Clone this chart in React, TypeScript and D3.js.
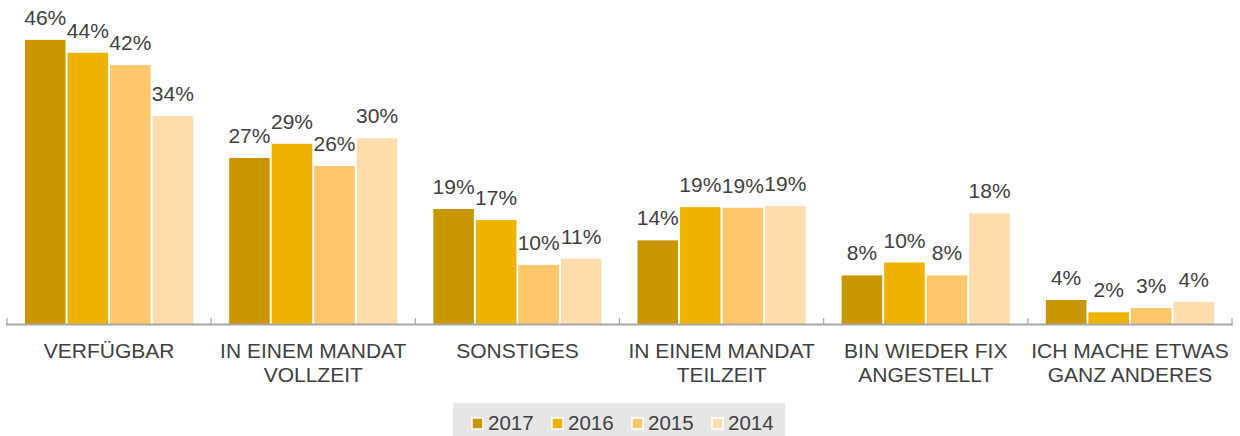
import React from "react";
import * as d3 from "d3";

const categories: string[][] = [
  ["VERFÜGBAR"],
  ["IN EINEM MANDAT", "VOLLZEIT"],
  ["SONSTIGES"],
  ["IN EINEM MANDAT", "TEILZEIT"],
  ["BIN WIEDER FIX", "ANGESTELLT"],
  ["ICH MACHE ETWAS", "GANZ ANDERES"],
];
const seriesNames = ["2017", "2016", "2015", "2014"];
const values2017 = [46.2, 27.0, 18.7, 13.6, 7.9, 3.9];
const values2016 = [44.1, 29.3, 16.9, 19.0, 10.0, 1.9];
const values2015 = [42.1, 25.7, 9.6, 18.9, 7.9, 2.6];
const values2014 = [33.8, 30.2, 10.6, 19.2, 18.0, 3.6];
const seriesValues = [values2017, values2016, values2015, values2014];
const colors = ["#c89600", "#eeb200", "#fec66a", "#fedcab"];

const W = 1240;
const H = 436;
const FONT = "'Liberation Sans', Arial, Helvetica, sans-serif";

export default function App() {
  const x0 = d3
    .scaleBand<number>()
    .domain(categories.map((_, i) => i))
    .range([7, 1232])
    .paddingInner(0)
    .paddingOuter(0);
  const groupPad = 17;
  const x1 = d3
    .scaleBand<number>()
    .domain(seriesNames.map((_, i) => i))
    .range([groupPad, x0.bandwidth() - groupPad])
    .padding(0);
  const y = d3.scaleLinear().domain([0, 50]).range([324, 16.5]);
  const baseY = y(0);

  return (
    <svg
      width={W}
      height={H}
      style={{ position: "absolute", left: 0, top: 0 }}
      fontFamily={FONT}
    >
      <rect x={0} y={0} width={W} height={H} fill="#fff" />
      {categories.map((cat, ci) => (
        <g key={ci} transform={`translate(${x0(ci)},0)`}>
          {seriesValues.map((vals, si) => {
            const v = vals[ci];
            const bx = x1(si)!;
            const bw = x1.bandwidth();
            return (
              <g key={si}>
                <rect
                  x={bx + 1}
                  y={y(v)}
                  width={bw - 2}
                  height={baseY - y(v)}
                  fill={colors[si]}
                />
                <text
                  x={bx + bw / 2}
                  y={y(v) - 15}
                  textAnchor="middle"
                  fontSize={21}
                  fill="#404040"
                >
                  {Math.round(v)}%
                </text>
              </g>
            );
          })}
          {cat.map((line, li) => (
            <text
              key={li}
              x={x0.bandwidth() / 2}
              y={358 + li * 24}
              textAnchor="middle"
              fontSize={21}
              fill="#404040"
            >
              {line}
            </text>
          ))}
        </g>
      ))}
      <line x1={6} x2={1233} y1={baseY + 0.5} y2={baseY + 0.5} stroke="#a6a6a6" strokeWidth={2} />
      {d3.range(categories.length + 1).map((i) => {
        const tx = i < categories.length ? x0(i)! : x0.range()[1];
        return (
          <line
            key={i}
            x1={tx}
            x2={tx}
            y1={baseY - 6}
            y2={baseY}
            stroke="#a6a6a6"
            strokeWidth={1.2}
          />
        );
      })}
      <rect x={453} y={403} width={332} height={33} fill="#e6e6e6" />
      {seriesNames.map((name, i) => {
        const lx = 472 + i * 80;
        return (
          <g key={name}>
            <rect x={lx} y={418} width={11} height={11} fill={colors[i]} stroke="#fff" strokeWidth={1.5} />
            <text x={lx + 16} y={430} fontSize={20.5} fill="#404040">
              {name}
            </text>
          </g>
        );
      })}
    </svg>
  );
}
